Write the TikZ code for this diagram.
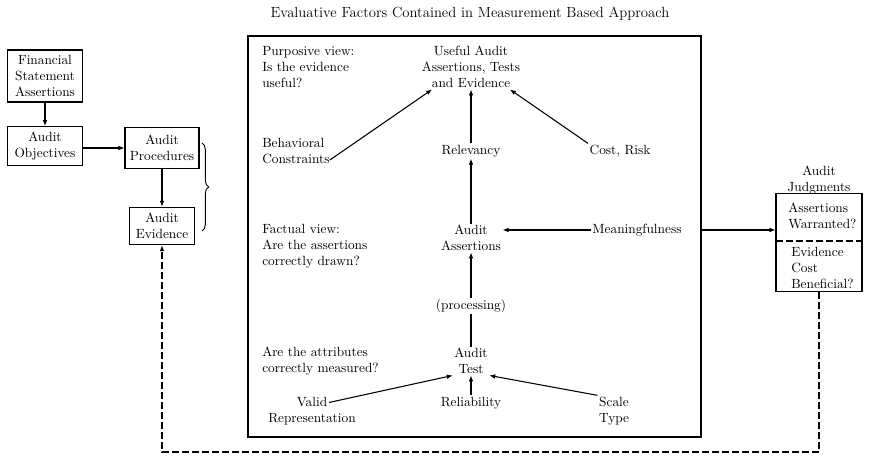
\documentclass[tikz,border=0pt]{standalone}
\usepackage{tikz}
\usetikzlibrary{arrows.meta,calc,decorations.pathreplacing}

\tikzset{
  pbox/.style={draw, line width=0.8pt, align=center, inner sep=2pt},
  txt/.style={align=center, inner sep=1pt},
  ltxt/.style={align=left, anchor=west, inner sep=0pt},
  arr/.style={line width=0.8pt, -{Latex[length=4.5pt,width=3.5pt]}},
  ret/.style={line width=0.9pt, dash pattern=on 5pt off 2.5pt},
}

\begin{document}
\begin{tikzpicture}[x=0.75pt, y=-0.75pt]
  \useasboundingbox (0,0) rectangle (870,459);
  % title and outer frame
  \node[txt, font=\fontsize{11}{13}\selectfont] (title) at (470,14) {Evaluative Factors Contained in Measurement Based Approach};
  \draw[line width=0.8pt] (248,36) rectangle (701,437);
  \coordinate (frameE) at (701,230);
  % left chain
  \node[pbox, minimum width=56pt, minimum height=39pt] (fsa) at (45,76) {Financial\\Statement\\Assertions};
  \node[pbox, minimum width=56pt, minimum height=29pt] (obj) at (45,146) {Audit\\Objectives};
  \node[pbox, minimum width=55.5pt, minimum height=31pt] (procd) at (162,148) {Audit\\Procedures};
  \node[pbox, minimum width=49pt, minimum height=28pt] (evid) at (162,226) {Audit\\Evidence};
  \draw[arr] (fsa) -- (obj);
  \draw[arr] (obj.east |- procd) -- (procd);
  \draw[arr] (procd) -- (evid);
  \draw[line width=0.7pt, decorate, decoration={brace, amplitude=5pt}] (202,143) -- (202,231);
  % left questions
  \node[ltxt] (purp) at (262,67) {Purposive view:\\Is the evidence\\useful?};
  \node[ltxt] (behav) at (262,151) {Behavioral\\Constraints};
  \node[ltxt] (fact) at (262,246) {Factual view:\\Are the assertions\\correctly drawn?};
  \node[ltxt] (attr) at (262,361) {Are the attributes\\correctly measured?};
  % centre column
  \node[txt] (useful) at (471,67) {Useful Audit\\Assertions, Tests\\and Evidence};
  \node[txt] (relev) at (471,151) {Relevancy};
  \node[txt] (cost) at (620,151) {Cost, Risk};
  \node[txt] (assert) at (471,238) {Audit\\Assertions};
  \node[txt] (meaning) at (637,230) {Meaningfulness};
  \node[txt] (procs) at (471,306) {(processing)};
  \node[txt] (test) at (471,361) {Audit\\Test};
  \node[txt] (valid) at (312,411) {Valid\\Representation};
  \node[txt] (reliab) at (471,403) {Reliability};
  \node[txt] (scale) at (614,411) {Scale\\Type};
  \draw[arr] (behav.-15) -- (useful.210);
  \draw[arr] (cost.north west) -- (useful.330);
  \draw[arr] (relev) -- (useful);
  \draw[arr] (assert) -- (relev);
  \draw[arr] (meaning.west) -- (meaning.west -| assert.east);
  \draw[line width=0.8pt] (test) -- (procs);
  \draw[arr] (procs) -- (assert);
  \draw[arr] ($(valid.north)+(17,7)$) -- (test.south west);
  \draw[arr] (reliab) -- (test);
  \draw[arr] (scale.north west) -- (test.south east);
  % audit judgments
  \node[draw, line width=0.8pt, minimum width=64.5pt, minimum height=74pt] (judg) at (819,242.5) {};
  \node[txt] (judglbl) at (819,180) {Audit\\Judgments};
  \draw[ret] (776,241) -- (862,241);
  \node[ltxt] (warr) at (788,216) {Assertions\\Warranted?};
  \node[ltxt] (benef) at (791,268) {Evidence\\Cost\\Beneficial?};
  \draw[arr] (frameE) -- (frameE -| judg.west);
  % dashed return path
  \coordinate (retR) at (822,452);
  \draw[ret, -{Latex[length=4.5pt,width=3.5pt]}] (judg.south) -- (judg.south |- retR) -| (evid.south);
\end{tikzpicture}
\end{document}
